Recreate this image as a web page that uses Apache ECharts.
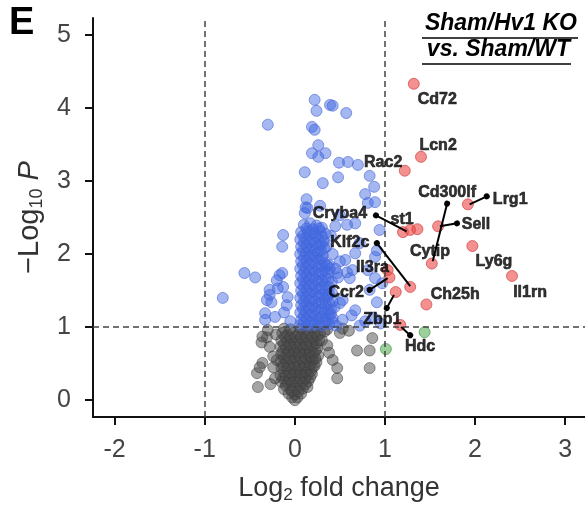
<!DOCTYPE html>
<html>
<head>
    <meta charset="utf-8">
    <title>Volcano plot</title>
    <script src="https://cdn.jsdelivr.net/npm/echarts@6.0.0/dist/echarts.min.js"></script>
    <style>
        body, html { margin: 0; padding: 0; width: 100%; height: 100%; overflow: hidden; background: #fff; }
        #main { width: 585px; height: 505px; }
    </style>
</head>
<body>
    <div id="main"></div>
    <script>
        var chartDom = document.getElementById('main');
        var myChart = echarts.init(chartDom);

        // tick values
        const xTicks = [-2, -1, 0, 1, 2, 3];
        const yTicks = [0, 1, 2, 3, 4, 5];
        const cutoffsX = [-1, 1];
        const cutoffY = 1;

        // not significant (grey)
        const grayPts = [
            [0, 0.0], [-0.03, 0.04], [0.03, 0.04], [-0.07, 0.09], [0, 0.08], [0.07, 0.09],
            [-0.12, 0.15], [-0.05, 0.15], [0.02, 0.15], [0.09, 0.16], [0.14, 0.18],
            [-0.15, 0.25], [-0.09, 0.24], [-0.03, 0.25], [0.03, 0.24], [0.09, 0.25], [0.15, 0.26],
            [-0.16, 0.34], [-0.1, 0.33], [-0.04, 0.35], [0.02, 0.33], [0.08, 0.35], [0.14, 0.34], [0.19, 0.36],
            [-0.15, 0.44], [-0.09, 0.42], [-0.03, 0.44], [0.03, 0.42], [0.09, 0.44], [0.15, 0.43], [0.2, 0.45],
            [-0.16, 0.53], [-0.1, 0.52], [-0.04, 0.54], [0.02, 0.52], [0.08, 0.54], [0.14, 0.52], [0.2, 0.55], [0.24, 0.52],
            [-0.15, 0.63], [-0.09, 0.62], [-0.03, 0.64], [0.03, 0.62], [0.09, 0.64], [0.15, 0.62], [0.21, 0.64], [0.26, 0.61],
            [-0.16, 0.73], [-0.1, 0.71], [-0.04, 0.73], [0.02, 0.71], [0.08, 0.73], [0.14, 0.71], [0.2, 0.73], [0.25, 0.71],
            [-0.15, 0.82], [-0.09, 0.81], [-0.03, 0.83], [0.03, 0.81], [0.09, 0.83], [0.15, 0.81], [0.21, 0.83], [0.27, 0.82],
            [-0.14, 0.92], [-0.08, 0.9], [-0.02, 0.92], [0.04, 0.9], [0.1, 0.92], [0.16, 0.9], [0.22, 0.92], [0.28, 0.91], [0.33, 0.94],
            [-0.12, 0.98], [-0.05, 0.97], [0.06, 0.98], [0.14, 0.97], [0.24, 0.98], [0.36, 0.97],
            [-0.1, 0.2], [-0.02, 0.2], [0.06, 0.2], [0.12, 0.22], [-0.03, 0.12], [0.04, 0.12],
            [-0.13, 0.3], [-0.06, 0.29], [0.0, 0.3], [0.06, 0.3], [0.12, 0.3], [0.17, 0.31],
            [-0.12, 0.39], [-0.06, 0.38], [0.0, 0.39], [0.06, 0.38], [0.12, 0.39], [0.18, 0.4],
            [-0.13, 0.48], [-0.07, 0.47], [-0.01, 0.49], [0.05, 0.47], [0.11, 0.48], [0.17, 0.49], [0.22, 0.47],
            [-0.12, 0.58], [-0.06, 0.57], [0.0, 0.59], [0.06, 0.57], [0.12, 0.58], [0.18, 0.59], [0.23, 0.57],
            [-0.13, 0.68], [-0.07, 0.66], [-0.01, 0.68], [0.05, 0.66], [0.11, 0.68], [0.17, 0.66], [0.23, 0.68],
            [-0.12, 0.77], [-0.06, 0.76], [0.0, 0.78], [0.06, 0.76], [0.12, 0.77], [0.18, 0.76], [0.24, 0.78],
            [-0.11, 0.87], [-0.05, 0.86], [0.01, 0.87], [0.07, 0.86], [0.13, 0.87], [0.19, 0.86], [0.25, 0.88],
            [-0.37, 0.79], [-0.31, 0.86], [-0.28, 0.73], [-0.42, 0.37], [-0.41, 0.18], [-0.36, 0.51],
            [-0.24, 0.45], [-0.2, 0.55], [-0.3, 0.96], [-0.36, 0.87], [-0.39, 0.45], [-0.24, 0.6],
            [-0.22, 0.3], [-0.27, 0.22], [-0.21, 0.9],
            [0.5, 0.92], [0.53, 0.98], [0.69, 0.68], [0.83, 0.68], [0.86, 0.85], [0.83, 0.44],
            [0.47, 0.44], [0.42, 0.55], [0.36, 0.75], [0.3, 0.82], [0.47, 0.3], [0.38, 0.65], [0.6, 0.95]
        ];

        // significant, |log2FC| < 1 (blue)
        const bluePts = [
            [0.22, 4.11], [0.24, 3.96], [0.39, 4.04], [0.42, 4.03], [0.57, 3.93], [0.19, 3.74], [0.22, 3.7],
            [0.26, 3.49], [0.19, 3.38], [0.26, 3.33], [0.34, 3.38], [0.49, 3.25], [0.59, 3.26], [0.7, 3.22],
            [0.11, 3.12], [0.31, 2.97], [0.48, 3.05], [0.83, 3.07], [0.88, 2.92], [0.78, 2.82], [0.13, 2.75],
            [0.81, 2.7], [0.12, 2.64], [0.28, 2.66], [-0.3, 3.77], [0.89, 2.71], [0.5, 2.53], [0.58, 2.4],
            [0.67, 2.42], [0.94, 2.33], [-0.13, 2.26], [-0.14, 2.1], [0.11, 2.56], [0.14, 2.63],
            [-0.56, 1.74], [-0.44, 1.68], [-0.8, 1.4], [-0.14, 1.74], [-0.2, 1.64], [-0.28, 1.51],
            [-0.13, 1.55], [-0.28, 1.44], [-0.26, 1.34], [-0.17, 1.71], [-0.19, 1.53], [-0.08, 1.41],
            [-0.09, 1.3], [-0.33, 1.19], [-0.22, 1.14], [-0.33, 1.1], [-0.31, 1.37], [-0.12, 1.2], [-0.05, 1.08],
            [0.36, 1.41], [0.41, 1.62], [0.47, 1.74], [0.58, 1.75], [0.37, 1.23], [0.5, 1.33], [0.63, 1.16],
            [0.67, 1.23], [0.53, 1.1], [0.64, 1.78], [0.91, 2.05], [0.56, 1.92], [0.67, 2.01], [0.89, 1.96],
            [0.48, 1.68], [0.61, 1.67], [0.81, 1.78], [0.89, 1.67], [0.97, 1.6], [0.83, 1.51], [0.53, 1.37],
            [0.41, 1.47], [0.91, 1.34], [0.72, 2.15], [0.78, 1.08], [0.87, 1.13], [0.72, 1.02], [0.95, 1.05],
            [0.35, 2.1], [0.42, 2.0], [0.5, 1.9], [0.38, 1.85], [0.45, 1.8], [0.4, 2.25], [0.45, 2.38],
            // dense column
            [0.1, 2.4], [0.17, 2.42], [0.24, 2.39], [0.3, 2.36],
            [0.07, 2.3], [0.14, 2.31], [0.21, 2.29], [0.28, 2.31], [0.34, 2.28],
            [0.06, 2.2], [0.12, 2.21], [0.19, 2.19], [0.26, 2.21], [0.32, 2.18],
            [0.07, 2.1], [0.13, 2.11], [0.2, 2.09], [0.27, 2.12], [0.33, 2.08],
            [0.06, 2.0], [0.12, 2.01], [0.19, 1.99], [0.25, 2.02], [0.31, 1.98],
            [0.07, 1.9], [0.13, 1.91], [0.2, 1.89], [0.27, 1.92], [0.33, 1.88],
            [0.06, 1.8], [0.12, 1.81], [0.19, 1.79], [0.26, 1.82], [0.33, 1.78], [0.39, 1.8],
            [0.07, 1.7], [0.13, 1.71], [0.2, 1.69], [0.27, 1.72], [0.34, 1.68],
            [0.06, 1.6], [0.12, 1.61], [0.19, 1.59], [0.26, 1.62], [0.33, 1.58],
            [0.07, 1.5], [0.13, 1.51], [0.2, 1.49], [0.27, 1.52], [0.34, 1.5],
            [0.06, 1.4], [0.12, 1.41], [0.19, 1.39], [0.26, 1.42], [0.33, 1.38], [0.42, 1.35],
            [0.07, 1.3], [0.13, 1.31], [0.2, 1.29], [0.27, 1.32], [0.34, 1.3], [0.44, 1.27],
            [0.06, 1.2], [0.12, 1.21], [0.19, 1.19], [0.26, 1.22], [0.33, 1.2], [0.4, 1.18],
            [0.07, 1.1], [0.13, 1.11], [0.2, 1.09], [0.27, 1.12], [0.34, 1.1], [0.42, 1.12],
            [0.06, 1.03], [0.14, 1.02], [0.22, 1.03], [0.3, 1.02], [0.38, 1.04], [0.46, 1.02],
            [0.13, 2.35], [0.2, 2.34], [0.27, 2.35],
            [0.09, 2.25], [0.16, 2.26], [0.23, 2.25], [0.3, 2.24],
            [0.1, 2.15], [0.16, 2.16], [0.23, 2.15], [0.3, 2.14],
            [0.09, 2.05], [0.16, 2.06], [0.22, 2.05], [0.29, 2.04],
            [0.1, 1.95], [0.16, 1.96], [0.23, 1.95], [0.3, 1.94],
            [0.09, 1.85], [0.16, 1.86], [0.23, 1.85], [0.3, 1.84], [0.36, 1.84],
            [0.1, 1.75], [0.16, 1.76], [0.23, 1.75], [0.3, 1.74], [0.37, 1.74],
            [0.09, 1.65], [0.16, 1.66], [0.23, 1.65], [0.3, 1.64], [0.37, 1.65],
            [0.1, 1.55], [0.16, 1.56], [0.23, 1.55], [0.3, 1.54], [0.38, 1.55],
            [0.09, 1.45], [0.16, 1.46], [0.23, 1.45], [0.3, 1.44], [0.38, 1.45],
            [0.1, 1.35], [0.16, 1.36], [0.23, 1.35], [0.3, 1.34], [0.38, 1.33],
            [0.09, 1.25], [0.16, 1.26], [0.23, 1.25], [0.3, 1.24], [0.4, 1.24],
            [0.1, 1.15], [0.16, 1.16], [0.23, 1.15], [0.3, 1.14], [0.38, 1.15],
            [0.1, 1.06], [0.18, 1.06], [0.26, 1.07], [0.34, 1.06], [0.42, 1.07]
        ];

        // up-regulated (red)
        const redPts = [
            [1.32, 4.33], [1.4, 3.33], [1.22, 3.14], [1.92, 2.68], [1.59, 2.38],
            [1.2, 2.3], [1.28, 2.33], [1.36, 2.34], [1.52, 1.87], [1.97, 2.11],
            [2.41, 1.7], [1.46, 1.31], [1.28, 1.55], [1.03, 1.78], [1.05, 1.68],
            [1.12, 1.48], [1.17, 1.03]
        ];

        // fold change > 1 but not significant (green)
        const greenPts = [[1.44, 0.93], [1.01, 0.7]];

        // gene labels
        const geneNames = ['Cd72', 'Lcn2', 'Rac2', 'Cd300lf', 'Lrg1', 'Sell', 'st1', 'Cryba4', 'Klf2c',
            'Il3ra', 'Ccr2', 'Zbp1', 'Ch25h', 'Cytip', 'Ly6g', 'Il1rn', 'Hdc'];
        const geneX = [1.58, 1.59, 0.98, 1.69, 2.39, 2.01, 1.19, 0.5, 0.61, 0.86, 0.57, 0.97, 1.78, 1.5, 2.21, 2.61, 1.39];
        const geneY = [4.11, 3.49, 3.25, 2.84, 2.75, 2.4, 2.47, 2.55, 2.15, 1.81, 1.47, 1.1, 1.44, 2.03, 1.89, 1.47, 0.73];

        // leader lines [from (dot end), to]
        const leaders = [
            [[1.69, 2.69], [1.53, 1.9]],
            [[1.8, 2.42], [1.61, 2.38]],
            [[2.13, 2.79], [1.94, 2.68]],
            [[0.9, 2.53], [1.24, 2.31]],
            [[0.91, 2.15], [1.28, 1.56]],
            [[0.83, 1.51], [1.03, 1.67]],
            [[1.02, 1.26], [1.1, 1.44]],
            [[1.28, 0.89], [1.18, 1.0]]
        ];

        const font = 'Liberation Sans, Arial, sans-serif';

        function pointStyle(fill, border) {
            return { color: fill, borderColor: border, borderWidth: 1 };
        }

        const option = {
            backgroundColor: '#fff',
            animation: false,
            grid: { left: 93, right: 0, top: 18, bottom: 88, outerBoundsMode: 'none', containLabel: false },
            xAxis: {
                type: 'value',
                min: -2.24,
                max: 3.22,
                name: '{a|Log}{s|2}{a| fold change}',
                nameLocation: 'middle',
                nameGap: 57,
                nameTextStyle: {
                    rich: {
                        a: { fontSize: 27, color: '#333', fontFamily: font },
                        s: { fontSize: 17, color: '#333', fontFamily: font, padding: [13, 0, 0, 0] }
                    }
                },
                axisLine: { onZero: false, lineStyle: { color: '#111', width: 2 } },
                axisTick: { show: true, length: 8, lineStyle: { color: '#111', width: 2 }, customValues: xTicks },
                axisLabel: { customValues: xTicks, color: '#444', fontSize: 25, fontFamily: font, margin: 21 },
                splitLine: { show: false }
            },
            yAxis: {
                type: 'value',
                min: -0.23,
                max: 5.23,
                name: '{a|\u2212Log}{s|10}{a| }{i|P}',
                nameLocation: 'middle',
                nameGap: 47,
                nameTextStyle: {
                    rich: {
                        a: { fontSize: 29, color: '#333', fontFamily: font },
                        s: { fontSize: 18, color: '#333', fontFamily: font, padding: [14, 0, 0, 0] },
                        i: { fontSize: 29, color: '#333', fontFamily: font, fontStyle: 'italic' }
                    }
                },
                axisLine: { onZero: false, lineStyle: { color: '#111', width: 2 } },
                axisTick: { show: true, length: 8, lineStyle: { color: '#111', width: 2 }, customValues: yTicks },
                axisLabel: { customValues: yTicks, color: '#444', fontSize: 25, fontFamily: font, margin: 22 },
                splitLine: { show: false }
            },
            series: [
                {
                    type: 'scatter', name: 'ns', data: grayPts, symbolSize: 11, z: 2,
                    itemStyle: pointStyle('rgba(72,72,72,0.62)', 'rgba(60,60,60,0.65)')
                },
                {
                    type: 'scatter', name: 'sig', data: bluePts, symbolSize: 11, z: 3,
                    itemStyle: pointStyle('rgba(65,105,225,0.6)', 'rgba(70,100,215,0.75)')
                },
                {
                    type: 'scatter', name: 'up', data: redPts, symbolSize: 11, z: 4,
                    itemStyle: pointStyle('rgba(235,70,70,0.75)', 'rgba(210,60,60,0.85)')
                },
                {
                    type: 'scatter', name: 'fc', data: greenPts, symbolSize: 11, z: 4,
                    itemStyle: pointStyle('rgba(90,175,90,0.75)', 'rgba(70,150,70,0.85)')
                },
                {
                    type: 'lines',
                    coordinateSystem: 'cartesian2d',
                    z: 6,
                    symbol: ['circle', 'none'],
                    symbolSize: 6,
                    lineStyle: { color: '#000', width: 2, opacity: 1 },
                    data: leaders.map(l => ({ coords: l }))
                },
                {
                    type: 'scatter',
                    name: 'labels',
                    z: 7,
                    symbolSize: 0,
                    data: geneNames.map((n, i) => ({ value: [geneX[i], geneY[i]], name: n })),
                    label: {
                        show: true,
                        position: 'inside',
                        formatter: p => p.name,
                        color: '#000',
                        fontWeight: 'bold',
                        fontSize: 16,
                        fontFamily: font,
                        textBorderColor: '#000',
                        textBorderWidth: 0.6
                    },
                    markLine: {
                        silent: true,
                        symbol: 'none',
                        label: { show: false },
                        lineStyle: { color: '#444', type: [6, 4], width: 1.5 },
                        data: cutoffsX.map(v => ({ xAxis: v })).concat([{ yAxis: cutoffY }])
                    }
                }
            ],
            graphic: [
                {
                    type: 'text', left: 9, top: 5,
                    style: { text: 'E', fill: '#000', fontSize: 38, fontWeight: 'bold', fontFamily: font }
                },
                {
                    type: 'text', right: 8, top: 12,
                    style: { text: 'Sham/Hv1 KO', fill: '#000', fontSize: 23, fontWeight: 'bold', fontStyle: 'italic', fontFamily: font }
                },
                {
                    type: 'text', right: 15, top: 38,
                    style: { text: 'vs. Sham/WT', fill: '#000', fontSize: 23, fontWeight: 'bold', fontStyle: 'italic', fontFamily: font }
                },
                { type: 'line', shape: { x1: 422, y1: 38, x2: 578, y2: 38 }, style: { stroke: '#000', lineWidth: 1.5 } },
                { type: 'line', shape: { x1: 422, y1: 64, x2: 571, y2: 64 }, style: { stroke: '#000', lineWidth: 1.5 } }
            ]
        };

        myChart.setOption(option);

        window.addEventListener('resize', function () {
            myChart.resize();
        });
    </script>
</body>
</html>
